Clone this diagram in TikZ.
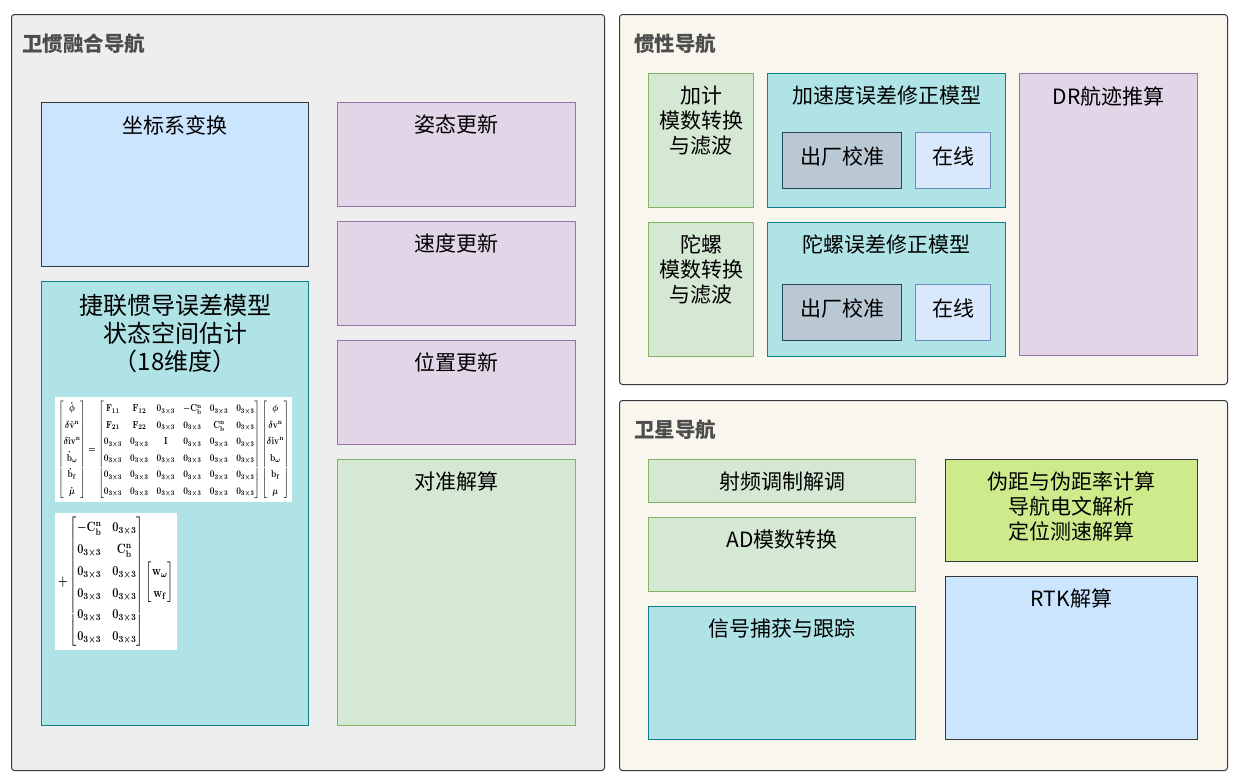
\documentclass[tikz,border=0pt]{standalone}
\usepackage{amsmath}
\usepackage[no-math]{fontspec}
\setmainfont{Noto Sans CJK SC}
\usepackage{tikz}
\usetikzlibrary{positioning}

\definecolor{frame}{HTML}{36393D}
\definecolor{titlegray}{HTML}{4D4D4D}
\definecolor{panelA}{HTML}{EEEEEE}
\definecolor{panelB}{HTML}{F9F7ED}
\definecolor{blueF}{HTML}{CCE5FF}
\definecolor{purpF}{HTML}{E1D5E7}\definecolor{purpD}{HTML}{9673A6}
\definecolor{tealF}{HTML}{B0E3E6}\definecolor{tealD}{HTML}{0E8088}
\definecolor{grnF}{HTML}{D5E8D4}\definecolor{grnD}{HTML}{82B366}
\definecolor{slateF}{HTML}{BAC8D3}\definecolor{slateD}{HTML}{23445D}
\definecolor{skyF}{HTML}{DAE8FC}\definecolor{skyD}{HTML}{6C8EBF}
\definecolor{limeF}{HTML}{CDEB8B}

\newcommand{\zz}{\mathbf{0}_{3\times3}}
\newcommand{\Cbn}{\mathbf{C}_{\mathbf{b}}^{\mathbf{n}}}
\renewcommand{\arraystretch}{1.35}

\begin{document}
\begin{tikzpicture}[x=1pt,y=-1pt,node distance=14pt,
  panel/.style={draw=frame,line width=1pt,rounded corners=3pt,anchor=north west},
  box/.style={draw,line width=1pt,anchor=north west,inner sep=0pt},
  lbl/.style={anchor=north,yshift=-13pt,inner sep=0pt,align=center,font=\fontsize{21}{25}\selectfont},
  ttl/.style={anchor=west,inner sep=0pt,text=titlegray,font=\fontsize{20.5}{24}\selectfont\bfseries},
  blue/.style={box,fill=blueF,draw=frame},
  purp/.style={box,fill=purpF,draw=purpD},
  teal/.style={box,fill=tealF,draw=tealD},
  grn/.style={box,fill=grnF,draw=grnD},
  factory/.style={box,fill=slateF,draw=slateD,minimum width=119pt,minimum height=56pt,text depth=9pt,font=\fontsize{21}{25}\selectfont},
  online/.style={box,fill=skyF,draw=skyD,minimum width=75pt,minimum height=56pt,text depth=9pt,font=\fontsize{21}{25}\selectfont}]

  \useasboundingbox (0,0) rectangle (1244,780);

  % panels
  \node[panel,fill=panelA,minimum width=593pt,minimum height=756pt] (fus) at (11,14) {};
  \node[panel,fill=panelB,minimum width=608pt,minimum height=370pt] (ins) at (619,14) {};
  \node[panel,fill=panelB,minimum width=608pt,minimum height=370pt] (gnss) at (619,400) {};
  \node[ttl] (fusT) at (22,44) {卫惯融合导航};
  \node[ttl] (insT) at (634,44) {惯性导航};
  \node[ttl] (gnssT) at (634,430) {卫星导航};

  % integrated navigation
  \node[blue,minimum width=267pt,minimum height=164pt,label={[lbl]north:坐标系变换}] (frm) at (41,102) {};
  \node[teal,minimum width=267pt,minimum height=444pt,
        label={[lbl,font=\fontsize{24}{28}\selectfont]north:{捷联惯导误差模型\\状态空间估计\\（18维度）}}] (sins) at (41,281) {};
  \node[fill=white,inner sep=3pt,anchor=north west] (eqA) at (55,397) {\resizebox*{231pt}{99pt}{\boldmath$
    \begin{bmatrix}\dot{\boldsymbol\phi}\\ \delta\dot{\mathbf v}^{\mathbf n}\\ \delta\mathbf{iv}^{\mathbf n}\\ \dot{\mathbf b}_\omega\\ \dot{\mathbf b}_{\mathbf f}\\ \dot{\boldsymbol\mu}\end{bmatrix}
    =\begin{bmatrix}
      \mathbf F_{11}&\mathbf F_{12}&\zz&-\Cbn&\zz&\zz\\
      \mathbf F_{21}&\mathbf F_{22}&\zz&\zz&\Cbn&\zz\\
      \zz&\zz&\mathbf I&\zz&\zz&\zz\\
      \zz&\zz&\zz&\zz&\zz&\zz\\
      \zz&\zz&\zz&\zz&\zz&\zz\\
      \zz&\zz&\zz&\zz&\zz&\zz\end{bmatrix}
    \begin{bmatrix}\boldsymbol\phi\\ \delta\mathbf v^{\mathbf n}\\ \delta\mathbf{iv}^{\mathbf n}\\ \mathbf b_\omega\\ \mathbf b_{\mathbf f}\\ \boldsymbol\mu\end{bmatrix}$}};
  \node[fill=white,inner sep=3pt,anchor=north west] (eqB) at (55,513) {\resizebox*{116pt}{131pt}{\boldmath$
    +\begin{bmatrix}-\Cbn&\zz\\ \zz&\Cbn\\ \zz&\zz\\ \zz&\zz\\ \zz&\zz\\ \zz&\zz\end{bmatrix}
    \begin{bmatrix}\mathbf w_\omega\\ \mathbf w_{\mathbf f}\end{bmatrix}$}};
  \node[purp,minimum width=238pt,minimum height=104pt,label={[lbl]north:姿态更新}] (att) at (337,102) {};
  \node[purp,minimum width=238pt,minimum height=104pt,label={[lbl]north:速度更新},below=of att] (vel) {};
  \node[purp,minimum width=238pt,minimum height=104pt,label={[lbl]north:位置更新},below=of vel] (pos) {};
  \node[grn,minimum width=238pt,minimum height=266pt,label={[lbl]north:对准解算},below=of pos] (aln) {};

  % inertial navigation
  \node[grn,minimum width=105pt,minimum height=134pt,label={[lbl]north:{加计\\模数转换\\与滤波}}] (acc) at (648,73) {};
  \node[teal,minimum width=238pt,minimum height=134pt,label={[lbl]north:加速度误差修正模型}] (accM) at (767,73) {};
  \node[factory] (accF) at (782,132) {出厂校准};
  \node[online] (accO) at (915,132) {在线};
  \node[grn,minimum width=105pt,minimum height=134pt,label={[lbl]north:{陀螺\\模数转换\\与滤波}},below=of acc] (gyr) {};
  \node[teal,minimum width=238pt,minimum height=134pt,label={[lbl]north:陀螺误差修正模型},below=of accM] (gyrM) {};
  \node[factory] (gyrF) at (782,284) {出厂校准};
  \node[online] (gyrO) at (915,284) {在线};
  \node[purp,minimum width=178pt,minimum height=282pt,label={[lbl]north:DR航迹推算}] (dr) at (1019,73) {};

  % satellite navigation
  \node[grn,minimum width=267pt,minimum height=43pt,label={[lbl]north:射频调制解调}] (rf) at (648,459) {};
  \node[grn,minimum width=267pt,minimum height=74pt,label={[lbl]north:AD模数转换},below=of rf] (adc) {};
  \node[teal,minimum width=267pt,minimum height=133pt,label={[lbl]north:信号捕获与跟踪},below=of adc] (trk) {};
  \node[box,fill=limeF,draw=frame,minimum width=252pt,minimum height=102pt,
        label={[lbl]north:{伪距与伪距率计算\\导航电文解析\\定位测速解算}}] (pvt) at (945,459) {};
  \node[blue,minimum width=252pt,minimum height=163pt,label={[lbl]north:RTK解算},below=of pvt] (rtk) {};
\end{tikzpicture}
\end{document}
